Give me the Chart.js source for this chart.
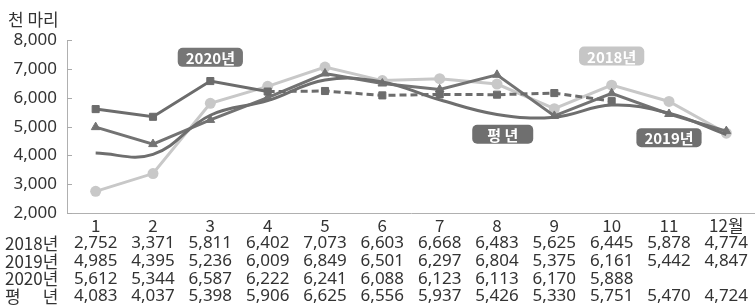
<!DOCTYPE html>
<html>
<head>
<meta charset="utf-8">
<script src="https://cdn.jsdelivr.net/npm/chart.js@4/dist/chart.umd.min.js"></script>
<style>
  html, body { margin: 0; padding: 0; background: #fff; }
  #wrap { width: 755px; height: 307px; position: relative; }
</style>
</head>
<body>
<div id="wrap"><canvas id="c" width="755" height="307"></canvas></div>
<script>
const months = ['1','2','3','4','5','6','7','8','9','10','11','12월'];
const rowNames = ['2018년','2019년','2020년','평년'];
const y2018 = [2752,3371,5811,6402,7073,6603,6668,6483,5625,6445,5878,4774];
const y2019 = [4985,4395,5236,6009,6849,6501,6297,6804,5375,6161,5442,4847];
const y2020 = [5612,5344,6587,6222,6241,6088,6123,6113,6170,5888,null,null];
const yAvg  = [4083,4037,5398,5906,6625,6556,5937,5426,5330,5751,5470,4724];
const yTicks = [2000,3000,4000,5000,6000,7000,8000];

const FONT = '"Noto Sans", "Noto Sans CJK KR", sans-serif';
const KFONT = '"Noto Sans CJK KR", "Noto Sans", sans-serif';
const TXT = '#333333';
const FS = 17, ROW = 17.6, FIRST = 13;
const fmt = v => (v === null || v === undefined) ? '' : v.toLocaleString('en-US');

const tablePlugin = {
  id: 'dataTable',
  afterDraw(chart) {
    const ctx = chart.ctx, xs = chart.scales.x, ys = chart.scales.y;
    ctx.save();
    // inward y tick marks
    ctx.strokeStyle = '#aaaaaa'; ctx.lineWidth = 1;
    yTicks.forEach(v => {
      const y = Math.round(ys.getPixelForValue(v)) + 0.5;
      ctx.beginPath(); ctx.moveTo(ys.right, y); ctx.lineTo(ys.right + 5, y); ctx.stroke();
    });
    ctx.fillStyle = TXT; ctx.textBaseline = 'middle';
    // month labels of the category axis
    ctx.font = FS + 'px ' + KFONT; ctx.textAlign = 'center';
    months.forEach((m, i) => ctx.fillText(m, xs.getPixelForValue(i), xs.top + FIRST));
    // data table values
    const rows = [y2018, y2019, y2020, yAvg];
    ctx.font = FS + 'px ' + FONT; ctx.textAlign = 'center';
    rows.forEach((arr, k) => {
      const y = xs.top + FIRST + ROW * (k + 1);
      arr.forEach((v, i) => {
        const s = fmt(v);
        if (s) ctx.fillText(s, xs.getPixelForValue(i), y);
      });
    });
    // row headers
    ctx.font = FS + 'px ' + KFONT;
    const x0 = 5;
    const wRef = ctx.measureText('2018년').width;
    rowNames.forEach((name, k) => {
      const y = xs.top + FIRST + ROW * (k + 1);
      if (name.length === 2) {
        ctx.textAlign = 'left'; ctx.fillText(name[0], x0, y);
        ctx.textAlign = 'right'; ctx.fillText(name[1], x0 + wRef, y);
      } else {
        ctx.textAlign = 'left'; ctx.fillText(name, x0, y);
      }
    });
    ctx.restore();
  }
};

const tagPlugin = {
  id: 'tags',
  afterDatasetsDraw(chart) {
    const ctx = chart.ctx, xs = chart.scales.x, ys = chart.scales.y;
    const tags = [
      {text:'2020년', m:3, v:7410, bg:'#767676'},
      {text:'2018년', m:10, v:7460, bg:'#c6c6c6'},
      {text:'평 년', m:8.1, v:4740, bg:'#6f6f6f', w:61},
      {text:'2019년', m:11, v:4620, bg:'#707070'}
    ];
    ctx.save();
    ctx.font = 'bold 15px ' + KFONT;
    tags.forEach(t => {
      const cx = xs.getPixelForValue(t.m - 1), cy = ys.getPixelForValue(t.v);
      const tw = ctx.measureText(t.text).width;
      const w = t.w || (tw + 16), h = 19;
      ctx.fillStyle = t.bg;
      ctx.beginPath();
      ctx.roundRect(cx - w/2, cy - h/2, w, h, 5);
      ctx.fill();
      ctx.fillStyle = '#ffffff'; ctx.textAlign = 'center'; ctx.textBaseline = 'middle';
      ctx.fillText(t.text, cx, cy + 1);
    });
    ctx.restore();
  }
};

new Chart(document.getElementById('c'), {
  type: 'line',
  data: {
    labels: months,
    datasets: [
      { label: '평년', data: yAvg, borderColor: '#6e6e6e', borderWidth: 3, pointRadius: 0, tension: 0.4, fill: false },
      { label: '2020년', data: y2020, borderColor: '#6c6c6c', backgroundColor: '#6c6c6c', borderWidth: 3,
        pointStyle: 'rect', pointRadius: 5, pointBorderWidth: 1, tension: 0,
        segment: { borderDash: c => c.p0DataIndex >= 3 ? [7, 4] : undefined } },
      { label: '2019년', data: y2019, borderColor: '#737373', backgroundColor: '#737373', borderWidth: 3,
        pointStyle: 'triangle', pointRadius: 5, pointBorderWidth: 1, tension: 0 },
      { label: '2018년', data: y2018, borderColor: '#c8c8c8', backgroundColor: '#c8c8c8', borderWidth: 3,
        pointStyle: 'circle', pointRadius: 5.5, pointBorderWidth: 0, tension: 0 }
    ]
  },
  options: {
    responsive: false,
    animation: false,
    events: [],
    layout: { autoPadding: false, padding: { left: 8, right: 0, top: 8, bottom: 2 } },
    plugins: {
      legend: { display: false },
      tooltip: { enabled: false },
      title: { display: true, text: '천 마리', align: 'start', color: TXT,
               font: { size: 17, family: KFONT, weight: 'normal' }, padding: { top: 1, bottom: 11 } }
    },
    scales: {
      x: {
        type: 'category', offset: true,
        afterFit: s => { s.height = 92; },
        grid: { display: false },
        border: { display: true, color: '#b0b0b0', width: 1 },
        ticks: { display: false, autoSkip: false }
      },
      y: {
        min: 2000, max: 8000,
        afterFit: s => { s.width = 59; },
        grid: { display: true, drawOnChartArea: false, drawTicks: false },
        border: { display: true, color: '#b0b0b0', width: 1 },
        ticks: { stepSize: 1000, padding: 10, color: TXT, font: { size: FS, family: FONT },
                 callback: v => v.toLocaleString('en-US') }
      }
    }
  },
  plugins: [tablePlugin, tagPlugin]
});
</script>
</body>
</html>
